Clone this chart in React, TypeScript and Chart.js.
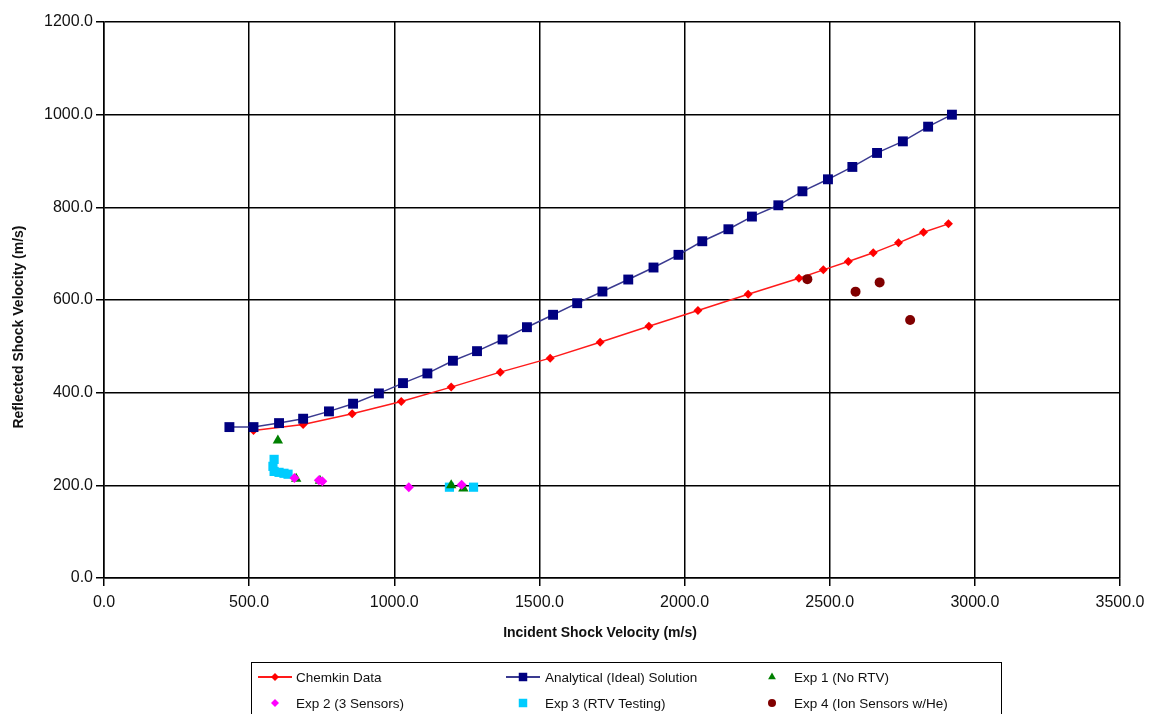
import React, { useEffect, useRef } from 'react';
import { Chart, registerables } from 'chart.js';

Chart.register(...registerables);

// Analytical (ideal) solution
const analyticalIncident = [432, 515, 603, 686, 775, 858, 947, 1030, 1114, 1202, 1285, 1373, 1457, 1547, 1630, 1717, 1806, 1893, 1979, 2061, 2151, 2232, 2323, 2406, 2494, 2578, 2663, 2752, 2839, 2921];
const analyticalReflected = [325.7, 325.7, 334.3, 343.8, 359.6, 376.2, 398.4, 420.6, 441.5, 468.9, 489.6, 514.8, 541.3, 568.1, 593.1, 618.3, 644.2, 670.1, 697.5, 726.8, 752.7, 780.1, 804.4, 834.6, 860.5, 887.2, 917.4, 942.4, 974.1, 1000];

// Chemkin results
const chemkinIncident = [515, 686, 855, 1024, 1196, 1365, 1537, 1709, 1877, 2046, 2219, 2394, 2478, 2564, 2650, 2737, 2823, 2909];
const chemkinReflected = [318.6, 331.5, 354.6, 381.1, 412, 444.3, 474.5, 509, 543.5, 577.4, 612.5, 647, 665.1, 683, 701.8, 723.3, 746.2, 764.3];

// Experiments
const exp1Incident = [599, 662, 744, 1196, 1238];
const exp1Reflected = [297, 214, 210, 200, 193];
const exp2Incident = [656, 740, 752, 1050, 1232];
const exp2Reflected = [216, 211, 209, 196, 201];
const exp3Incident = [586, 582, 586, 603, 620, 634, 1190, 1273];
const exp3Reflected = [256, 241, 230, 228, 226, 224, 196, 196];
const exp4Incident = [2423, 2589, 2672, 2777];
const exp4Reflected = [645, 618, 638, 557];

const xTickStep = 500;
const yTickStep = 200;

const FONT = '"Liberation Sans", Arial, sans-serif';

const pairs = (xs: number[], ys: number[]) => xs.map((x, i) => ({ x, y: ys[i] }));

function drawMarker(ctx: CanvasRenderingContext2D, style: string, x: number, y: number, r: number, color: string) {
  ctx.save();
  ctx.fillStyle = color;
  ctx.beginPath();
  if (style === 'rect') {
    const s = r * Math.SQRT1_2;
    ctx.rect(x - s, y - s, 2 * s, 2 * s);
  } else if (style === 'rectRot') {
    ctx.moveTo(x - r, y);
    ctx.lineTo(x, y - r);
    ctx.lineTo(x + r, y);
    ctx.lineTo(x, y + r);
    ctx.closePath();
  } else if (style === 'triangle') {
    ctx.moveTo(x, y - r);
    ctx.lineTo(x + r * 0.866, y + r * 0.5);
    ctx.lineTo(x - r * 0.866, y + r * 0.5);
    ctx.closePath();
  } else {
    ctx.arc(x, y, r, 0, Math.PI * 2);
  }
  ctx.fill();
  ctx.restore();
}

// Axis titles drawn at fixed spots around the plot
const axisTitles = {
  id: 'axisTitles',
  afterDraw(chart: any) {
    const ctx = chart.ctx as CanvasRenderingContext2D;
    ctx.save();
    ctx.fillStyle = '#111';
    ctx.font = `bold 14px ${FONT}`;
    ctx.textAlign = 'center';
    ctx.textBaseline = 'middle';
    ctx.fillText('Incident Shock Velocity (m/s)', 600, 633);
    ctx.translate(19, 327);
    ctx.rotate(-Math.PI / 2);
    ctx.fillText('Reflected Shock Velocity (m/s)', 0, 0);
    ctx.restore();
  },
};

// Boxed three-column legend under the plot
const boxedLegend = {
  id: 'boxedLegend',
  afterDraw(chart: any) {
    const ctx = chart.ctx as CanvasRenderingContext2D;
    const sets = chart.data.datasets;
    const colX = [275, 523, 772];
    const textX = [296, 545, 794];
    const rowY = [677, 703];
    ctx.save();
    ctx.strokeStyle = '#000';
    ctx.lineWidth = 1;
    ctx.strokeRect(251.5, 662.5, 750, 70);
    ctx.font = `13.5px ${FONT}`;
    ctx.textBaseline = 'middle';
    ctx.textAlign = 'left';
    sets.forEach((ds: any, i: number) => {
      const c = i % 3;
      const r = Math.floor(i / 3);
      const cx = colX[c];
      const cy = rowY[r];
      if (ds.showLine) {
        ctx.strokeStyle = ds.borderColor;
        ctx.lineWidth = 2;
        ctx.beginPath();
        ctx.moveTo(cx - 17, cy);
        ctx.lineTo(cx + 17, cy);
        ctx.stroke();
      }
      const mr = ds.pointStyle === 'rect' ? 6 : ds.pointStyle === 'triangle' ? 4.5 : 4;
      drawMarker(ctx, ds.pointStyle, cx, cy, mr, ds.pointBackgroundColor);
      ctx.fillStyle = '#111';
      ctx.fillText(ds.label, textX[c], cy + 1);
    });
    ctx.restore();
  },
};

export default function App() {
  const canvasRef = useRef<HTMLCanvasElement>(null);

  useEffect(() => {
    if (!canvasRef.current) return;
    Chart.defaults.font.family = FONT;
    const chart = new Chart(canvasRef.current, {
      type: 'scatter',
      data: {
        datasets: [
          {
            label: 'Chemkin Data',
            data: pairs(chemkinIncident, chemkinReflected),
            showLine: true,
            borderColor: '#ff1a1a',
            borderWidth: 1.5,
            pointStyle: 'rectRot',
            pointRadius: 4.5,
            pointBackgroundColor: '#ff0000',
            pointBorderWidth: 0,
            order: 6,
          },
          {
            label: 'Analytical (Ideal) Solution',
            data: pairs(analyticalIncident, analyticalReflected),
            showLine: true,
            borderColor: '#3a3a90',
            borderWidth: 1.5,
            pointStyle: 'rect',
            pointRadius: 7,
            pointBackgroundColor: '#000080',
            pointBorderWidth: 0,
            order: 5,
          },
          {
            label: 'Exp 1 (No RTV)',
            data: pairs(exp1Incident, exp1Reflected),
            pointStyle: 'triangle',
            pointRadius: 6,
            pointBackgroundColor: '#008000',
            borderColor: '#008000',
            pointBorderWidth: 0,
            order: 3,
          },
          {
            label: 'Exp 2 (3 Sensors)',
            data: pairs(exp2Incident, exp2Reflected),
            pointStyle: 'rectRot',
            pointRadius: 5,
            pointBackgroundColor: '#ff00ff',
            borderColor: '#ff00ff',
            pointBorderWidth: 0,
            order: 1,
          },
          {
            label: 'Exp 3 (RTV Testing)',
            data: pairs(exp3Incident, exp3Reflected),
            pointStyle: 'rect',
            pointRadius: 6.5,
            pointBackgroundColor: '#00ccff',
            borderColor: '#00ccff',
            pointBorderWidth: 0,
            order: 4,
          },
          {
            label: 'Exp 4 (Ion Sensors w/He)',
            data: pairs(exp4Incident, exp4Reflected),
            pointStyle: 'circle',
            pointRadius: 5,
            pointBackgroundColor: '#800000',
            borderColor: '#800000',
            pointBorderWidth: 0,
            order: 2,
          },
        ],
      },
      options: {
        animation: false,
        responsive: false,
        devicePixelRatio: 1,
        layout: { padding: { left: 0, top: 22, right: 35, bottom: 78 } },
        plugins: {
          legend: { display: false },
          tooltip: { enabled: false },
        },
        scales: {
          x: {
            type: 'linear',
            min: 0,
            max: 3500,
            ticks: {
              stepSize: xTickStep,
              color: '#111',
              font: { size: 16 },
              padding: 7,
              maxRotation: 0,
              callback: (v: any) => Number(v).toFixed(1),
            },
            grid: { color: '#000', lineWidth: 1.5, tickLength: 8 },
            border: { color: '#000', width: 1.5 },
            afterFit: (scale: any) => {
              scale.height = 58;
            },
          },
          y: {
            type: 'linear',
            min: 0,
            max: 1200,
            ticks: {
              stepSize: yTickStep,
              color: '#111',
              font: { size: 16 },
              padding: 3,
              callback: (v: any) => Number(v).toFixed(1),
            },
            grid: { color: '#000', lineWidth: 1.5, tickLength: 8 },
            border: { color: '#000', width: 1.5 },
            afterFit: (scale: any) => {
              scale.width = 104;
            },
          },
        },
      },
      plugins: [axisTitles, boxedLegend],
    } as any);
    return () => chart.destroy();
  }, []);

  return (
    <div style={{ position: 'absolute', left: 0, top: 0, width: 1155, height: 714, background: '#fff' }}>
      <canvas ref={canvasRef} width={1155} height={714} style={{ display: 'block' }} />
    </div>
  );
}
